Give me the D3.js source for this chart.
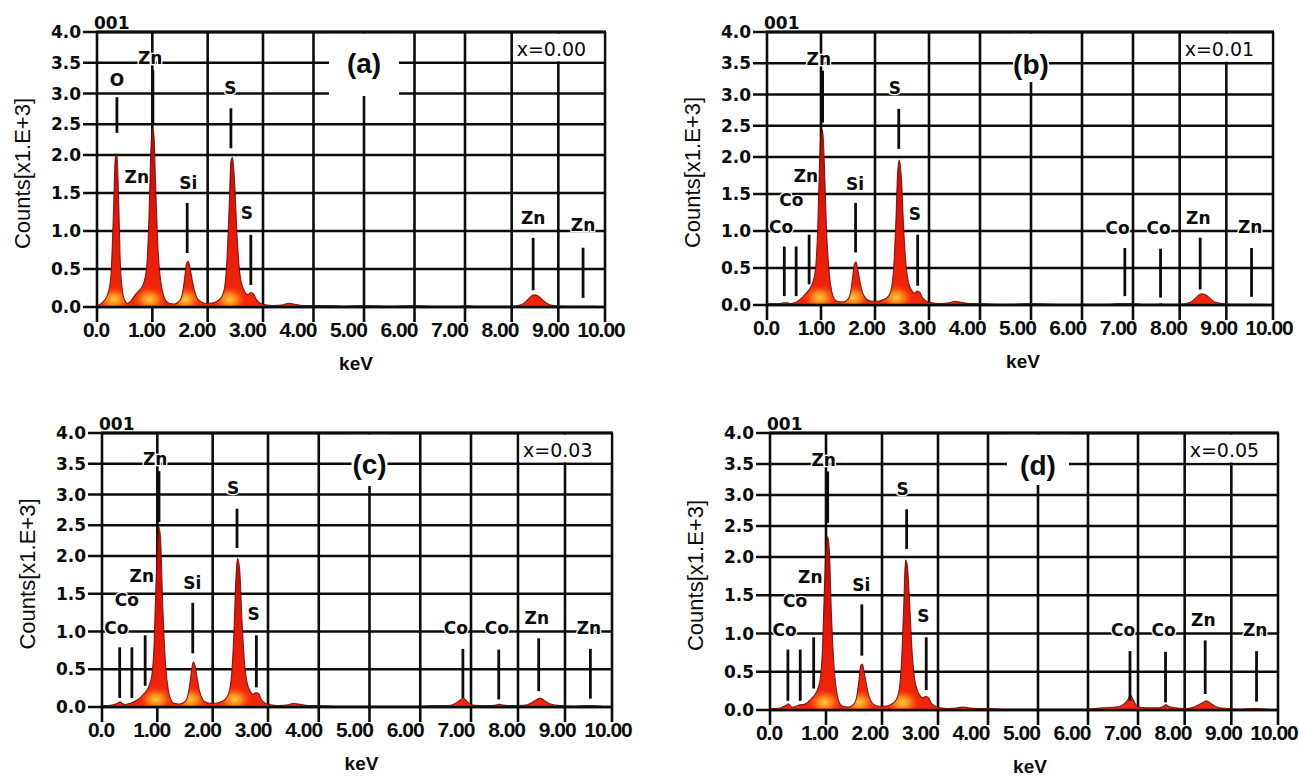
<!DOCTYPE html>
<html>
<head>
<meta charset="utf-8">
<script src="https://cdn.jsdelivr.net/npm/d3@7"></script>
<style>
  html, body { margin: 0; background: #fff; }
  svg { display: block; }
</style>
</head>
<body>
<svg id="fig" width="1299" height="778"></svg>
<script>
// ---- EDS spectra of Zn(1-x)Co(x)S, counts in thousands vs energy (keV) ----
const energyKeV = [
  0.00,0.10,0.20,0.25,0.30,0.33,0.36,0.39,0.42,0.46,
  0.50,0.55,0.60,0.65,0.70,0.75,0.80,0.85,0.90,0.94,
  0.97,1.00,1.03,1.06,1.10,1.15,1.20,1.25,1.30,1.40,
  1.50,1.55,1.59,1.62,1.65,1.68,1.72,1.76,1.80,1.86,
  1.95,2.05,2.15,2.25,2.31,2.35,2.39,2.42,2.45,2.49,
  2.53,2.58,2.63,2.68,2.73,2.78,2.83,2.88,2.95,3.05,
  3.20,3.40,3.50,3.60,3.80,4.00,4.30,4.60,5.00,5.50,
  6.00,6.30,6.55,6.70,6.80,6.85,6.90,7.00,7.20,7.45,
  7.55,7.60,7.65,7.80,8.00,8.20,8.30,8.40,8.47,8.55,
  8.65,8.75,8.90,9.20,9.50,9.80
];

const countsA = [ // x = 0.00
  0.02,0.06,0.18,0.40,1.30,1.95,2.02,1.45,0.60,0.22,
  0.09,0.05,0.07,0.12,0.17,0.21,0.25,0.33,0.55,1.20,
  2.00,2.43,2.30,1.60,0.80,0.35,0.16,0.08,0.05,0.04,
  0.09,0.20,0.42,0.58,0.60,0.52,0.36,0.22,0.13,0.08,
  0.05,0.05,0.07,0.13,0.28,0.65,1.35,1.92,1.97,1.60,
  0.95,0.45,0.27,0.19,0.16,0.19,0.17,0.10,0.05,0.03,
  0.02,0.03,0.05,0.04,0.02,0.02,0.02,0.01,0.02,0.01,
  0.02,0.01,0.01,0.01,0.01,0.01,0.01,0.02,0.01,0.01,
  0.01,0.01,0.01,0.01,0.01,0.03,0.07,0.13,0.16,0.15,
  0.10,0.05,0.02,0.01,0.01,0.01
];
const countsB = [ // x = 0.01
  0.02,0.02,0.02,0.02,0.03,0.03,0.03,0.03,0.02,0.02,
  0.03,0.04,0.07,0.10,0.14,0.18,0.23,0.31,0.50,1.05,
  1.85,2.36,2.43,1.95,1.05,0.45,0.18,0.08,0.05,0.04,
  0.08,0.18,0.40,0.56,0.58,0.48,0.32,0.19,0.12,0.07,
  0.05,0.05,0.07,0.12,0.25,0.55,1.20,1.80,1.96,1.70,
  1.05,0.50,0.28,0.20,0.16,0.19,0.17,0.10,0.05,0.03,
  0.02,0.03,0.05,0.04,0.02,0.02,0.01,0.01,0.02,0.01,
  0.01,0.01,0.01,0.02,0.02,0.02,0.02,0.02,0.01,0.01,
  0.01,0.02,0.01,0.01,0.01,0.03,0.07,0.13,0.15,0.14,
  0.09,0.04,0.02,0.01,0.01,0.01
];
const countsC = [ // x = 0.03
  0.02,0.02,0.03,0.04,0.06,0.07,0.05,0.04,0.03,0.04,
  0.05,0.06,0.08,0.10,0.13,0.17,0.21,0.28,0.42,0.80,
  1.50,2.15,2.47,2.25,1.30,0.55,0.22,0.09,0.05,0.04,
  0.07,0.15,0.32,0.50,0.60,0.55,0.38,0.22,0.13,0.07,
  0.05,0.05,0.07,0.12,0.24,0.50,1.10,1.70,1.97,1.80,
  1.15,0.55,0.30,0.21,0.17,0.19,0.18,0.10,0.05,0.03,
  0.02,0.03,0.05,0.04,0.02,0.02,0.01,0.01,0.01,0.01,
  0.01,0.02,0.02,0.05,0.10,0.12,0.09,0.03,0.02,0.02,
  0.03,0.04,0.03,0.02,0.02,0.03,0.06,0.10,0.12,0.09,
  0.05,0.03,0.02,0.01,0.02,0.01
];
const countsD = [ // x = 0.05
  0.02,0.02,0.03,0.05,0.07,0.08,0.06,0.04,0.04,0.05,
  0.06,0.07,0.07,0.09,0.12,0.16,0.20,0.27,0.42,0.85,
  1.55,2.10,2.33,2.10,1.20,0.50,0.20,0.08,0.05,0.04,
  0.08,0.18,0.40,0.58,0.60,0.50,0.34,0.20,0.12,0.07,
  0.05,0.05,0.07,0.13,0.28,0.65,1.40,1.96,1.90,1.45,
  0.85,0.42,0.26,0.19,0.16,0.18,0.16,0.09,0.05,0.03,
  0.02,0.03,0.04,0.03,0.02,0.02,0.01,0.01,0.01,0.01,
  0.01,0.03,0.04,0.07,0.14,0.20,0.14,0.04,0.03,0.03,
  0.05,0.07,0.05,0.03,0.02,0.04,0.07,0.10,0.12,0.09,
  0.05,0.03,0.02,0.01,0.02,0.01
];

const yTickValues = [0, 0.5, 1, 1.5, 2, 2.5, 3, 3.5, 4];
const yTickLabels = ["0.0","0.5","1.0","1.5","2.0","2.5","3.0","3.5","4.0"];
const xTickValues = [0,1,2,3,4,5,6,7,8,9,10];
const xTickLabels = ["0.0","1.00","2.00","3.00","4.00","5.00","6.00","7.00","8.00","9.00","10.00"];

const panelTags = ["(a)","(b)","(c)","(d)"];
const compositions = ["x=0.00","x=0.01","x=0.03","x=0.05"];

// peak marker lines: [energy, lower count, upper count]
const linesUndoped = [[0.36,2.36,2.94],[1.01,2.50,3.38],[1.63,0.71,1.37],[2.42,2.11,2.76],
                      [2.78,0.29,0.95],[8.46,0.22,0.91],[9.53,0.12,0.78]];
// peak labels: [element, energy, count]
const labelsUndoped = [["O",0.36,3.22],["Zn",0.96,3.58],["Zn",0.72,1.71],["Si",1.65,1.63],
                       ["S",2.41,3.09],["S",2.71,1.24],["Zn",8.46,1.17],["Zn",9.53,1.08]];
const linesDoped = [[0.32,0.12,0.79],[0.54,0.12,0.79],[0.78,0.28,0.95],[1.03,2.55,3.38],
                    [1.64,0.71,1.38],[2.44,2.13,2.77],[2.79,0.26,0.95],[6.84,0.12,0.77],
                    [7.59,0.10,0.76],[8.44,0.21,0.91],[9.54,0.11,0.77]];
const labelsDoped = [["Co",0.26,1.05],["Co",0.45,1.42],["Zn",0.72,1.74],["Zn",0.96,3.57],
                     ["Si",1.63,1.64],["S",2.37,3.10],["S",2.74,1.23],["Co",6.70,1.04],
                     ["Co",7.55,1.04],["Zn",8.40,1.18],["Zn",9.51,1.05]];

const spectra = [countsA, countsB, countsC, countsD];
const markerLines = [linesUndoped, linesDoped, linesDoped, linesDoped];
const markerLabels = [labelsUndoped, labelsDoped, labelsDoped, labelsDoped];

// ---- layout of the four panels (pixel anchors of the frames) ----
const layout = [
  { xr: [97, 263, 465, 605],    yr: [307, 155, 32],  tagBox: [70, 64] },
  { xr: [767, 929, 1133, 1273], yr: [305, 157, 32],  tagBox: [36, 50] },
  { xr: [102, 268, 471, 612],   yr: [707, 556, 433], tagBox: [36, 53] },
  { xr: [770, 938, 1138, 1278], yr: [710, 557, 433], tagBox: [62, 52] }
];

const INK = "#0c0c0c";
const GRID_W = 2.6;
const svg = d3.select("#fig");
svg.append("rect").attr("width", 1299).attr("height", 778).attr("fill", "#fff");

const defs = svg.append("defs");
const glow = defs.append("radialGradient").attr("id", "glow");
glow.append("stop").attr("offset", "0%").attr("stop-color", "#ffd640").attr("stop-opacity", 0.95);
glow.append("stop").attr("offset", "45%").attr("stop-color", "#ff9a1c").attr("stop-opacity", 0.75);
glow.append("stop").attr("offset", "100%").attr("stop-color", "#ff4a10").attr("stop-opacity", 0);

layout.forEach((L, i) => {
  const x = d3.scaleLinear().domain([0, 3, 7, 10]).range(L.xr);
  const y = d3.scaleLinear().domain([0, 2, 4]).range(L.yr);
  const labelX = d3.scaleLinear().domain([0, 10]).range([L.xr[0] - 1, L.xr[3] - 4]);
  const g = svg.append("g");
  const x0 = x(0), x10 = x(10), y0 = y(0), y4 = y(4);

  // grid: horizontal lines every 0.5, vertical lines every 1 keV (extending as ticks)
  g.append("g").selectAll("line").data(yTickValues).join("line")
    .attr("x1", x0 - 14).attr("x2", x10)
    .attr("y1", d => y(d)).attr("y2", d => y(d))
    .attr("stroke", INK).attr("stroke-width", GRID_W);
  g.append("g").selectAll("line").data(xTickValues).join("line")
    .attr("x1", d => x(d)).attr("x2", d => x(d))
    .attr("y1", y4).attr("y2", y0 + 15)
    .attr("stroke", INK).attr("stroke-width", GRID_W);

  // blank cells behind the panel tag and the composition label
  const cx5 = x(5);
  g.append("rect")
    .attr("x", cx5 - L.tagBox[0] / 2).attr("y", y4 + 1.5)
    .attr("width", L.tagBox[0]).attr("height", L.tagBox[1] - 1.5)
    .attr("fill", "#fff");
  g.append("rect")
    .attr("x", x(8) + 1.5).attr("y", y4 + 1.5)
    .attr("width", x(10) - x(8) - 3).attr("height", y(3.5) - y4 - 3)
    .attr("fill", "#fff");

  // spectrum
  const pts = energyKeV.map((e, k) => ({ e, v: spectra[i][k] }));
  const area = d3.area()
    .x(d => x(d.e)).y0(y0).y1(d => y(d.v))
    .curve(d3.curveMonotoneX);
  const grad = defs.append("linearGradient")
    .attr("id", "fill" + i).attr("gradientUnits", "userSpaceOnUse")
    .attr("x1", 0).attr("x2", 0).attr("y1", y0).attr("y2", y(2.5));
  grad.append("stop").attr("offset", "0%").attr("stop-color", "#f2280a");
  grad.append("stop").attr("offset", "45%").attr("stop-color", "#e8160a");
  grad.append("stop").attr("offset", "100%").attr("stop-color", "#b80a05");

  defs.append("clipPath").attr("id", "clip" + i)
    .append("path").attr("d", area(pts));
  g.append("path").attr("d", area(pts)).attr("fill", `url(#fill${i})`);

  // warm glow at the base of the main peaks
  const peaks = pts.filter((d, k) => k > 0 && k < pts.length - 1 &&
    d.v > pts[k - 1].v && d.v >= pts[k + 1].v && d.v > 0.45);
  g.append("g").attr("clip-path", `url(#clip${i})`)
    .selectAll("ellipse").data(peaks).join("ellipse")
    .attr("cx", d => x(d.e) - 3).attr("cy", y(0.1))
    .attr("rx", 17).attr("ry", 13)
    .attr("fill", "url(#glow)");

  g.append("path")
    .attr("d", d3.line().x(d => x(d.e)).y(d => y(d.v)).curve(d3.curveMonotoneX)(pts))
    .attr("fill", "none").attr("stroke", "#6a0804").attr("stroke-width", 1.1)
    .attr("stroke-opacity", 0.85);

  // baseline and frame
  g.append("line").attr("x1", x0).attr("x2", x10).attr("y1", y0).attr("y2", y0)
    .attr("stroke", INK).attr("stroke-width", GRID_W);
  g.append("line").attr("x1", x0 - 1).attr("x2", x10 + 1).attr("y1", y4).attr("y2", y4)
    .attr("stroke", INK).attr("stroke-width", GRID_W + 0.3);

  // peak marker lines
  g.append("g").selectAll("line").data(markerLines[i]).join("line")
    .attr("x1", d => x(d[0])).attr("x2", d => x(d[0]))
    .attr("y1", d => y(d[1])).attr("y2", d => y(d[2]))
    .attr("stroke", INK).attr("stroke-width", 2.8);

  // element labels
  g.append("g").selectAll("text").data(markerLabels[i]).join("text")
    .attr("x", d => x(d[1])).attr("y", d => y(d[2]))
    .attr("text-anchor", "middle").attr("dominant-baseline", "central")
    .attr("font-family", "DejaVu Sans").attr("font-weight", "bold").attr("font-size", 17)
    .attr("fill", INK)
    .attr("stroke", "#fff").attr("stroke-width", 2.5).attr("paint-order", "stroke")
    .text(d => d[0]);

  // y tick labels
  g.append("g").selectAll("text").data(yTickValues).join("text")
    .attr("x", x0 - 16).attr("y", d => y(d))
    .attr("text-anchor", "end").attr("dominant-baseline", "central")
    .attr("font-family", "DejaVu Sans").attr("font-weight", "bold").attr("font-size", 17)
    .attr("fill", INK)
    .text((d, k) => yTickLabels[k]);

  // x tick labels
  g.append("g").selectAll("text").data(xTickValues).join("text")
    .attr("x", d => labelX(d)).attr("y", y0 + 30)
    .attr("text-anchor", "middle")
    .attr("font-family", "Liberation Sans").attr("font-weight", "bold").attr("font-size", 21)
    .attr("letter-spacing", -1)
    .attr("fill", INK)
    .text((d, k) => xTickLabels[k]);

  // axis titles
  g.append("text")
    .attr("x", cx5 - 8).attr("y", y0 + 63)
    .attr("text-anchor", "middle")
    .attr("font-family", "Liberation Sans").attr("font-weight", "bold").attr("font-size", 19)
    .attr("fill", INK).text("keV");
  const midY = (y0 + y4) / 2 + 4;
  g.append("text")
    .attr("transform", `translate(${x0 - 75},${midY}) rotate(-90)`)
    .attr("text-anchor", "middle").attr("dominant-baseline", "central")
    .attr("font-family", "Liberation Sans").attr("font-size", 22)
    .attr("fill", INK).text("Counts[x1.E+3]");

  // spectrum number, panel tag and composition
  g.append("text")
    .attr("x", x0 - 3).attr("y", y4 - 3)
    .attr("font-family", "DejaVu Sans").attr("font-weight", "bold").attr("font-size", 17)
    .attr("fill", INK).text("001");
  g.append("text")
    .attr("x", cx5).attr("y", y(3.5) + 1)
    .attr("text-anchor", "middle").attr("dominant-baseline", "central")
    .attr("font-family", "Liberation Sans").attr("font-weight", "bold").attr("font-size", 28)
    .attr("fill", INK).text(panelTags[i]);
  g.append("text")
    .attr("x", x(8) + 5).attr("y", y4 + 24)
    .attr("font-family", "DejaVu Sans").attr("font-size", 19)
    .attr("fill", INK).text(compositions[i]);
});
</script>
</body>
</html>
